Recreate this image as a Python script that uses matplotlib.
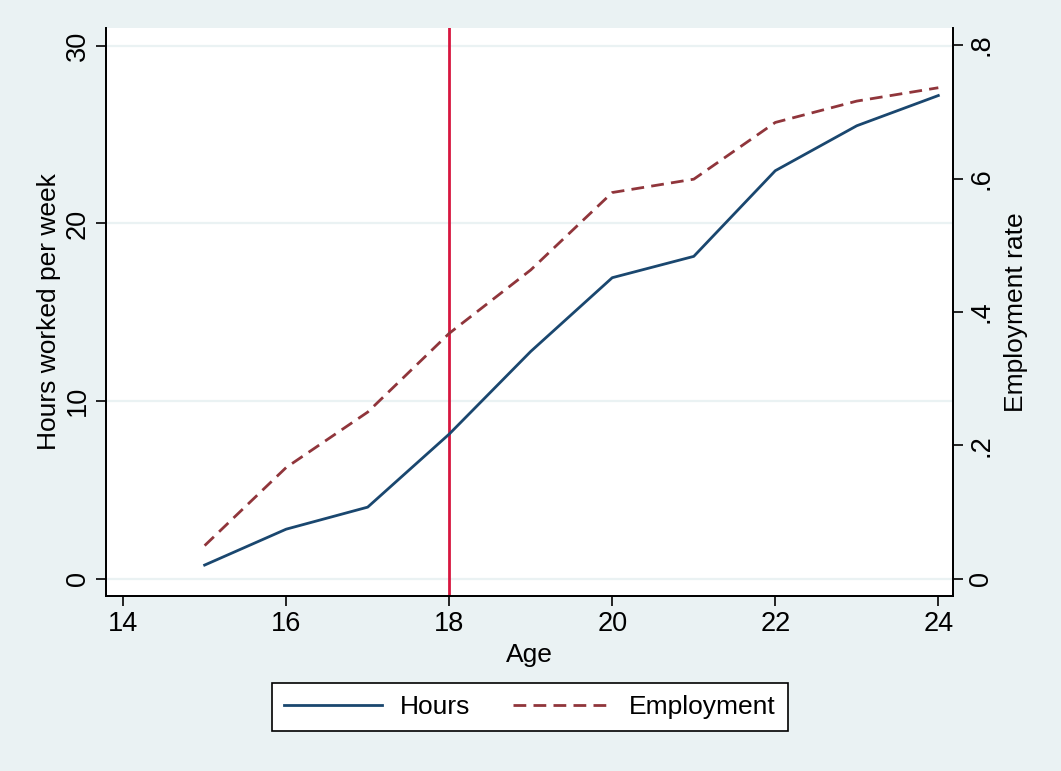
import matplotlib
matplotlib.use("Agg")
import matplotlib.pyplot as plt
from matplotlib.lines import Line2D

ages = [15, 16, 17, 18, 19, 20, 21, 22, 23, 24]
hours = [0.78, 2.8, 4.04, 8.15, 12.8, 16.95, 18.15, 22.97, 25.5, 27.2]
employment = [0.050, 0.167, 0.250, 0.368, 0.463, 0.579, 0.599, 0.684, 0.716, 0.736]
cutoff_age = 18
x_ticks = [14, 16, 18, 20, 22, 24]
left_ticks = [0, 10, 20, 30]
right_ticks = [0, 0.2, 0.4, 0.6, 0.8]
right_labels = ["0", ".2", ".4", ".6", ".8"]

plt.rcParams['font.family'] = ['Liberation Sans', 'DejaVu Sans']
BG = "#EAF2F3"
NAVY = "#1a476f"
MAROON = "#90353b"
RED = "#d7163f"
FS = 19
DASH = (4.6, 2.6)

fig = plt.figure(figsize=(10.61, 7.71), dpi=100, facecolor=BG)
ax = fig.add_axes([106/1061, 1 - 596/771, (953-106)/1061, (596-28)/771])
ax.set_facecolor("white")
ax2 = ax.twinx()

ax.set_xlim(13.79, 24.18)
ax.set_ylim(-0.96, 31.0)
ax2.set_ylim(-0.0255, 0.8255)

for t in left_ticks:
    ax.axhline(t, color=BG, lw=1.6, zorder=0)

ax.axvline(cutoff_age, color=RED, lw=2, zorder=1)
ax.plot(ages, hours, color=NAVY, lw=2, zorder=3)
ax2.plot(ages, employment, color=MAROON, lw=2, dashes=DASH, zorder=3)

ax.set_xticks(x_ticks)
ax.set_yticks(left_ticks)
ax.set_yticklabels([str(t) for t in left_ticks], rotation=90, va='center')
ax2.set_yticks(right_ticks)
ax2.set_yticklabels(right_labels, rotation=90, va='center')

for a in (ax, ax2):
    a.tick_params(axis='both', labelsize=FS + 0.5, length=7, width=1.2, direction='out', pad=4, colors='black')
    for s in a.spines.values():
        s.set_linewidth(1.3)
        s.set_color('black')
    a.spines['top'].set_visible(False)

ax.set_xlabel("Age", fontsize=FS, labelpad=4)
ax.set_ylabel("Hours worked per week", fontsize=FS, labelpad=3)
ax2.set_ylabel("Employment rate", fontsize=FS, labelpad=7)

handles = [Line2D([], [], color=NAVY, lw=2),
           Line2D([], [], color=MAROON, lw=2, dashes=DASH)]
leg = fig.legend(handles, ["Hours", "Employment"], loc='center',
                 bbox_to_anchor=(530/1061, 1 - 707/771), ncol=2,
                 fontsize=FS, frameon=True, fancybox=False, edgecolor='black',
                 framealpha=1,
                 handlelength=3.7, columnspacing=1.6, handletextpad=0.7,
                 borderpad=0.45, borderaxespad=0)
leg.get_frame().set_linewidth(1.2)
leg.get_frame().set_facecolor('white')

fig.savefig("out.png", dpi=100, facecolor=BG)
